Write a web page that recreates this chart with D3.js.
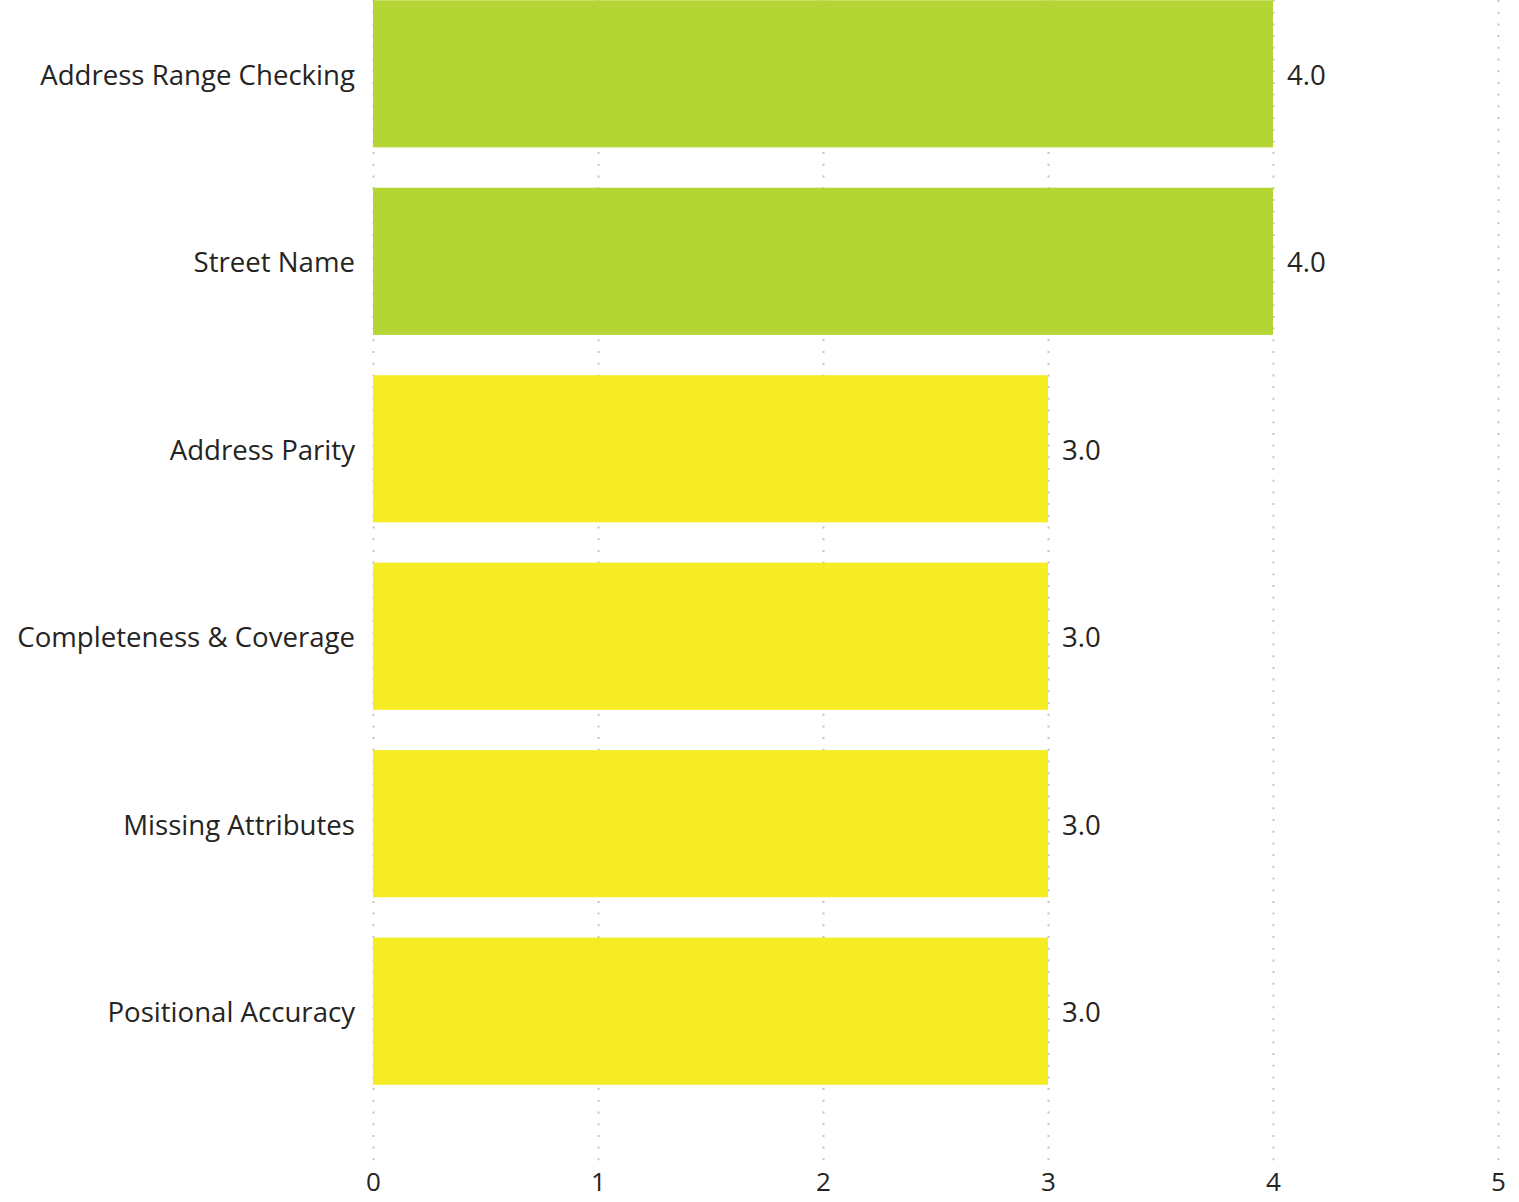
<!DOCTYPE html>
<html><head><meta charset="utf-8">
<script src="https://cdn.jsdelivr.net/npm/d3@7"></script>
<style>
html,body{margin:0;padding:0;background:#fff;}
text{font-family:"Segoe UI","Open Sans","Noto Sans",sans-serif;fill:#252423;}
</style></head>
<body>
<svg id="chart" width="1519" height="1202"></svg>
<script>
const categories = ["Address Range Checking","Street Name","Address Parity","Completeness & Coverage","Missing Attributes","Positional Accuracy"];
const values = [4.0, 4.0, 3.0, 3.0, 3.0, 3.0];
const barColors = ["#B5D534","#B5D534","#F5EC23","#F5EC23","#F5EC23","#F5EC23"];
const xTicks = [0,1,2,3,4,5];

const svg = d3.select("#chart");
const x = d3.scaleLinear().domain([0,5]).range([373,1498]);
const y = d3.scaleBand().domain(categories).range([-41,1126]).paddingInner(0.215).paddingOuter(0.22);

// grid
svg.append("g").selectAll("line").data(xTicks).join("line")
  .attr("x1", d=>x(d)+0.5).attr("x2", d=>x(d)+0.5)
  .attr("y1", 0).attr("y2", 1166)
  .attr("stroke","#c4c4c4").attr("stroke-width",2)
  .attr("stroke-dasharray","2,9.7");

// bars
svg.append("g").selectAll("rect").data(categories).join("rect")
  .attr("x", x(0)).attr("y", d=>y(d))
  .attr("width", (d,i)=>x(values[i])-x(0))
  .attr("height", y.bandwidth())
  .attr("fill", (d,i)=>barColors[i]);

// category labels
svg.append("g").selectAll("text").data(categories).join("text")
  .attr("x", 355).attr("y", d=>y(d)+y.bandwidth()/2)
  .attr("text-anchor","end").attr("dominant-baseline","central")
  .attr("font-size", 27.6).text(d=>d);

// value labels
svg.append("g").selectAll("text").data(categories).join("text")
  .attr("x", (d,i)=>x(values[i])+14).attr("y", d=>y(d)+y.bandwidth()/2)
  .attr("dominant-baseline","central")
  .attr("font-size", 27.6).text((d,i)=>d3.format(".1f")(values[i]));

// x axis labels
const axis = d3.axisBottom(x).tickValues(xTicks).tickSize(0).tickPadding(0).tickFormat(d3.format("d"));
const ax = svg.append("g").attr("transform","translate(0,1173)").call(axis);
ax.select(".domain").remove();
ax.selectAll("text").attr("font-size",26).attr("fill","#252423")
  .style("font-family",'"Segoe UI","Open Sans","Noto Sans",sans-serif');
</script>
</body></html>
